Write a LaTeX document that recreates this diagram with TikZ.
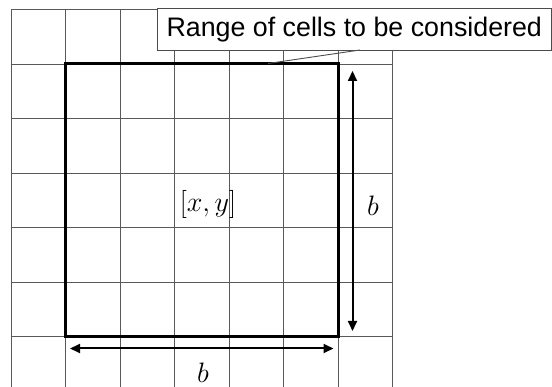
\documentclass[tikz,border=0pt]{standalone}
\usepackage{graphicx}
\usepackage{fontspec}
\newfontfamily\labelfont{Liberation Sans}
\usetikzlibrary{arrows.meta}
\newcommand{\biglabel}[1]{\scalebox{1.13}{$#1$}}
\begin{document}
\begin{tikzpicture}[x=1pt,y=-1pt,
  gridline/.style={draw=black!65,line width=0.9pt},
  rangebox/.style={draw=black,line width=3pt},
  dimarrow/.style={draw=black,line width=2pt,{Triangle[length=10pt,width=9pt]}-{Triangle[length=10pt,width=9pt]}},
  calloutbox/.style={draw=black!70,fill=white,line width=0.9pt,minimum width=394.5pt,minimum height=41.5pt,inner sep=0pt,font=\labelfont\fontsize{26.8}{30}\selectfont},
  mathlabel/.style={font=\fontsize{24.88}{30}\selectfont,inner sep=0pt}]
\useasboundingbox (0,0) rectangle (552,387);
% grid
\begin{scope}
\clip (0,0) rectangle (552,387);
\foreach \i in {0,...,7} {
  \draw[gridline] ({11+54.5*\i},9.5) -- ({11+54.5*\i},400);
  \draw[gridline] (11,{9.5+54.5*\i}) -- (392.5,{9.5+54.5*\i});
}
\end{scope}
% range of cells
\coordinate (tl) at (65.5,64);
\coordinate (br) at (338,336.5);
\draw[rangebox] (tl) rectangle (br);
% callout
\node[calloutbox] (callout) at (354.25,29.25) {Range of cells to be considered};
\coordinate (ptr) at (268,63.5);
\coordinate (ptrbase) at (360,50);
\draw[black!70,line width=0.9pt] (ptrbase) -- (ptr);
% arrows
\coordinate (vtop) at (352.5,71);
\coordinate (vbot) at (352.5,331);
\draw[dimarrow] (vtop) -- (vbot);
\coordinate (hl) at (70,348.5);
\coordinate (hr) at (333.5,348.5);
\draw[dimarrow] (hl) -- (hr);
% labels
\node[mathlabel] (bv) at (373,206) {\biglabel{b}};
\node[mathlabel] (bh) at (203,373) {\biglabel{b}};
\node[mathlabel] (xy) at (208,204) {\biglabel{[x,y]}};
\end{tikzpicture}
\end{document}
